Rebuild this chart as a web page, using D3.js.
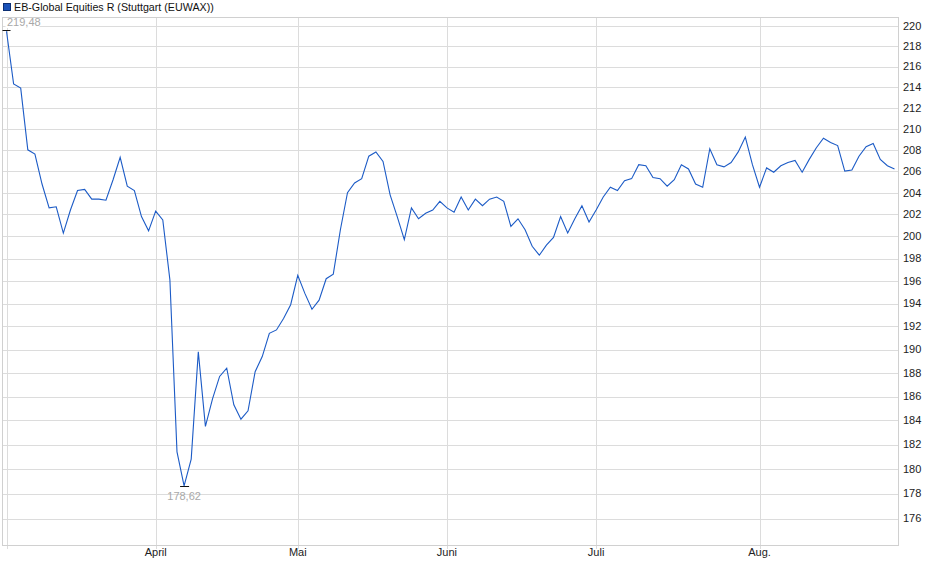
<!DOCTYPE html>
<html lang="de">
<head>
    <meta charset="UTF-8">
    <title>EB-Global Equities R</title>
    <script src="https://d3js.org/d3.v7.min.js"></script>
    <style>
        body { margin: 0; background: #fff; font-family: "Liberation Sans", Arial, sans-serif; }
        .grid line { stroke: #dcdcdc; shape-rendering: crispEdges; }
        .ylab { font-size: 11px; fill: #222; }
        .xlab { font-size: 11px; fill: #222; }
        .extreme { font-size: 11px; fill: #a8a8a8; }
    </style>
</head>
<body>
    <svg width="940" height="579"></svg>
    <script>
        // trading days, 3 Mar 2025 .. 28 Aug 2025 (one value per day)
        const prices = [
            219.48, 214.3, 213.9, 208.0, 207.6, 204.8, 202.6, 202.7, 200.3, 202.4,
            204.2, 204.3, 203.4, 203.4, 203.3, 205.2, 207.3, 204.6, 204.2, 201.8,
            200.5, 202.3, 201.5, 196.1, 181.4, 178.62, 180.8, 189.8, 183.5, 185.8,
            187.7, 188.4, 185.3, 184.1, 184.8, 188.1, 189.4, 191.4, 191.7, 192.7,
            193.9, 196.5, 194.9, 193.5, 194.3, 196.2, 196.6, 200.6, 204.0, 204.9,
            205.3, 207.4, 207.8, 206.9, 203.8, 201.8, 199.7, 202.6, 201.6, 202.1,
            202.4, 203.2, 202.6, 202.2, 203.6, 202.4, 203.4, 202.8, 203.4, 203.6,
            203.2, 200.9, 201.6, 200.6, 199.1, 198.3, 199.2, 199.9, 201.8, 200.3,
            201.6, 202.8, 201.3, 202.4, 203.6, 204.5, 204.2, 205.1, 205.3, 206.6,
            206.5, 205.4, 205.3, 204.6, 205.2, 206.6, 206.2, 204.8, 204.5, 208.1,
            206.6, 206.4, 206.8, 207.8, 209.2, 206.6, 204.5, 206.3, 205.9, 206.5,
            206.8, 207.0, 205.9, 207.1, 208.2, 209.1, 208.7, 208.4, 206.0, 206.1,
            207.4, 208.3, 208.6, 207.1, 206.5, 206.2
        ];
        // first trading day of each month (index into prices)
        const monthStart = [0, 21, 41, 62, 83, 106];
        const monthNames = ["", "April", "Mai", "Juni", "Juli", "Aug."];
        const yTicks = d3.range(176, 221, 2);
        const yDomain = [173.9, 220.9];
        const seriesName = "EB-Global Equities R (Stuttgart (EUWAX))";

        const plot = { left: 2.5, right: 898.5, top: 17.5, bottom: 545.5 };
        const svg = d3.select("svg");

        const x = d3.scaleLinear()
            .domain([0, prices.length - 1])
            .range([6.5, 894.5]);

        const y = d3.scaleLog()
            .domain(yDomain)
            .range([545, 17]);

        // horizontal grid + right labels
        const grid = svg.append("g").attr("class", "grid");
        grid.selectAll(".h")
            .data(yTicks)
            .enter().append("line")
            .attr("x1", plot.left).attr("x2", plot.right)
            .attr("y1", d => Math.round(y(d)) + 0.5)
            .attr("y2", d => Math.round(y(d)) + 0.5);

        svg.selectAll(".ylab")
            .data(yTicks)
            .enter().append("text")
            .attr("class", "ylab")
            .attr("x", 903)
            .attr("y", d => y(d))
            .attr("dy", "0.35em")
            .text(d => d);

        // vertical month lines
        grid.selectAll(".v")
            .data(monthStart)
            .enter().append("line")
            .attr("x1", d => Math.round(x(d)) + 0.5)
            .attr("x2", d => Math.round(x(d)) + 0.5)
            .attr("y1", plot.top).attr("y2", plot.bottom + 3);

        svg.selectAll(".xlab")
            .data(monthStart)
            .enter().append("text")
            .attr("class", "xlab")
            .attr("x", d => x(d))
            .attr("y", 556)
            .attr("text-anchor", "middle")
            .text((d, i) => monthNames[i]);

        // frame
        svg.append("rect")
            .attr("x", plot.left).attr("y", plot.top)
            .attr("width", plot.right - plot.left)
            .attr("height", plot.bottom - plot.top)
            .attr("fill", "none")
            .attr("stroke", "#d0d0d0")
            .attr("shape-rendering", "crispEdges");

        // price line
        const line = d3.line()
            .x((d, i) => x(i))
            .y(d => y(d));

        svg.append("path")
            .datum(prices)
            .attr("fill", "none")
            .attr("stroke", "#1c5bc6")
            .attr("stroke-width", 1.1)
            .attr("d", line);

        // high / low markers
        const fmt = v => v.toFixed(2).replace(".", ",");
        const hiIdx = d3.maxIndex(prices), loIdx = d3.minIndex(prices);

        svg.append("line")
            .attr("x1", x(hiIdx) - 4).attr("x2", x(hiIdx) + 4)
            .attr("y1", Math.round(y(prices[hiIdx])) - 0.5)
            .attr("y2", Math.round(y(prices[hiIdx])) - 0.5)
            .attr("stroke", "#111");
        svg.append("rect")
            .attr("x", x(hiIdx) - 1).attr("y", 18)
            .attr("width", 34).attr("height", 10)
            .attr("fill", "#fff");
        svg.append("text")
            .attr("class", "extreme")
            .attr("x", x(hiIdx) + 0.5)
            .attr("y", 22)
            .attr("dy", "0.35em")
            .text(fmt(prices[hiIdx]));

        svg.append("line")
            .attr("x1", x(loIdx) - 4).attr("x2", x(loIdx) + 5)
            .attr("y1", Math.round(y(prices[loIdx])) + 0.5)
            .attr("y2", Math.round(y(prices[loIdx])) + 0.5)
            .attr("stroke", "#111");
        svg.append("text")
            .attr("class", "extreme")
            .attr("x", x(loIdx))
            .attr("y", y(prices[loIdx]) + 10)
            .attr("dy", "0.35em")
            .attr("text-anchor", "middle")
            .text(fmt(prices[loIdx]));

        // legend
        svg.append("rect")
            .attr("x", 3.5).attr("y", 3.5)
            .attr("width", 7).attr("height", 7)
            .attr("fill", "#1a52b8")
            .attr("stroke", "#0d2f73");
        svg.append("text")
            .attr("x", 14)
            .attr("y", 10.5)
            .style("font-size", "10.7px")
            .attr("fill", "#111")
            .text(seriesName);
    </script>
</body>
</html>
